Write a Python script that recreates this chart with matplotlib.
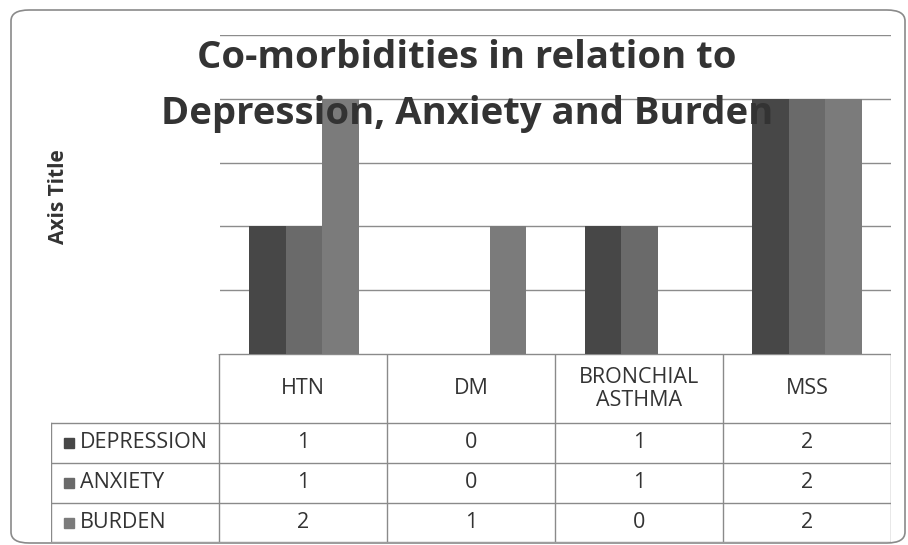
import matplotlib.pyplot as plt
import numpy as np
from matplotlib.patches import FancyBboxPatch

plt.rcParams['font.family'] = ['Open Sans', 'DejaVu Sans']

categories = ['HTN', 'DM', 'BRONCHIAL\nASTHMA', 'MSS']
series_names = ['DEPRESSION', 'ANXIETY', 'BURDEN']
depression = [1, 0, 1, 2]
anxiety = [1, 0, 1, 2]
burden = [2, 1, 0, 2]
series_colors = ['#474747', '#6a6a6a', '#7b7b7b']

W, H = 908, 545


def fx(px):
    return px / W


def fy(py):
    return 1 - py / H


fig = plt.figure(figsize=(W / 100, H / 100), dpi=100)

# outer chart frame
frame = FancyBboxPatch((fx(11), fy(543)), fx(905) - fx(11), fy(10) - fy(543),
                       boxstyle='round,pad=0,rounding_size=0.02', transform=fig.transFigure,
                       facecolor='white', edgecolor='#8a8a8a', lw=1.2, zorder=-1)
fig.patches.append(frame)

# bar area
ax = fig.add_axes([fx(220), fy(354), fx(891) - fx(220), fy(35) - fy(354)])
x = np.arange(len(categories))
width = 0.218
all_series = [depression, anxiety, burden]
for i in range(len(all_series)):
    ax.bar(x + (i - 1) * width, all_series[i], width, color=series_colors[i], zorder=3)
ax.set_xlim(-0.5, len(categories) - 0.5)
ax.set_ylim(0, 2.5)
ax.set_yticks(np.arange(0, 2.51, 0.5))
ax.set_xticks([])
ax.tick_params(left=False, labelleft=False)
ax.grid(axis='y', color='#8c8c8c', lw=1)
ax.set_axisbelow(True)
for s in ax.spines.values():
    s.set_visible(False)
ax.patch.set_alpha(0)

# data table under the bars
tax = fig.add_axes([fx(51), fy(542), fx(891) - fx(51), fy(354) - fy(542)])
tax.set_xlim(-1.5, len(categories) - 0.5)
tax.set_ylim(542, 354)
tax.axis('off')
row_edges = [354, 423, 463, 503, 542]
lc = '#8a8a8a'
tax.plot([-0.5, 3.5], [354, 354], color=lc, lw=1)
for r in row_edges[1:]:
    tax.plot([-1.5, 3.5], [r, r], color=lc, lw=1)
for c in np.arange(-0.5, 3.6, 1):
    tax.plot([c, c], [354, 542], color=lc, lw=1)
tax.plot([-1.5, -1.5], [423, 542], color=lc, lw=1)

fs = 15.5
for j in range(len(categories)):
    tax.text(j, 389, categories[j], ha='center', va='center', fontsize=fs,
             color='#333333', linespacing=1.1)
for i in range(len(series_names)):
    yc = (row_edges[i + 1] + row_edges[i + 2]) / 2
    tax.plot(-1.395, yc, marker='s', ms=7.5, color=series_colors[i], clip_on=False)
    tax.text(-1.33, yc, series_names[i], ha='left', va='center', fontsize=fs, color='#333333')
    for j in range(len(categories)):
        tax.text(j, yc, str(all_series[i][j]), ha='center', va='center', fontsize=fs,
                 color='#333333')

fig.text(0.514, fy(58), 'Co-morbidities in relation to', ha='center', va='center',
         fontsize=27.5, fontweight='bold', color='#333333', zorder=5)
fig.text(0.514, fy(114), 'Depression, Anxiety and Burden', ha='center', va='center',
         fontsize=27.5, fontweight='bold', color='#333333', zorder=5)
fig.text(fx(58), fy(197), 'Axis Title', rotation=90, ha='center', va='center',
         fontsize=15, fontweight='bold', color='#333333')

fig.savefig('out.png', dpi=100)
